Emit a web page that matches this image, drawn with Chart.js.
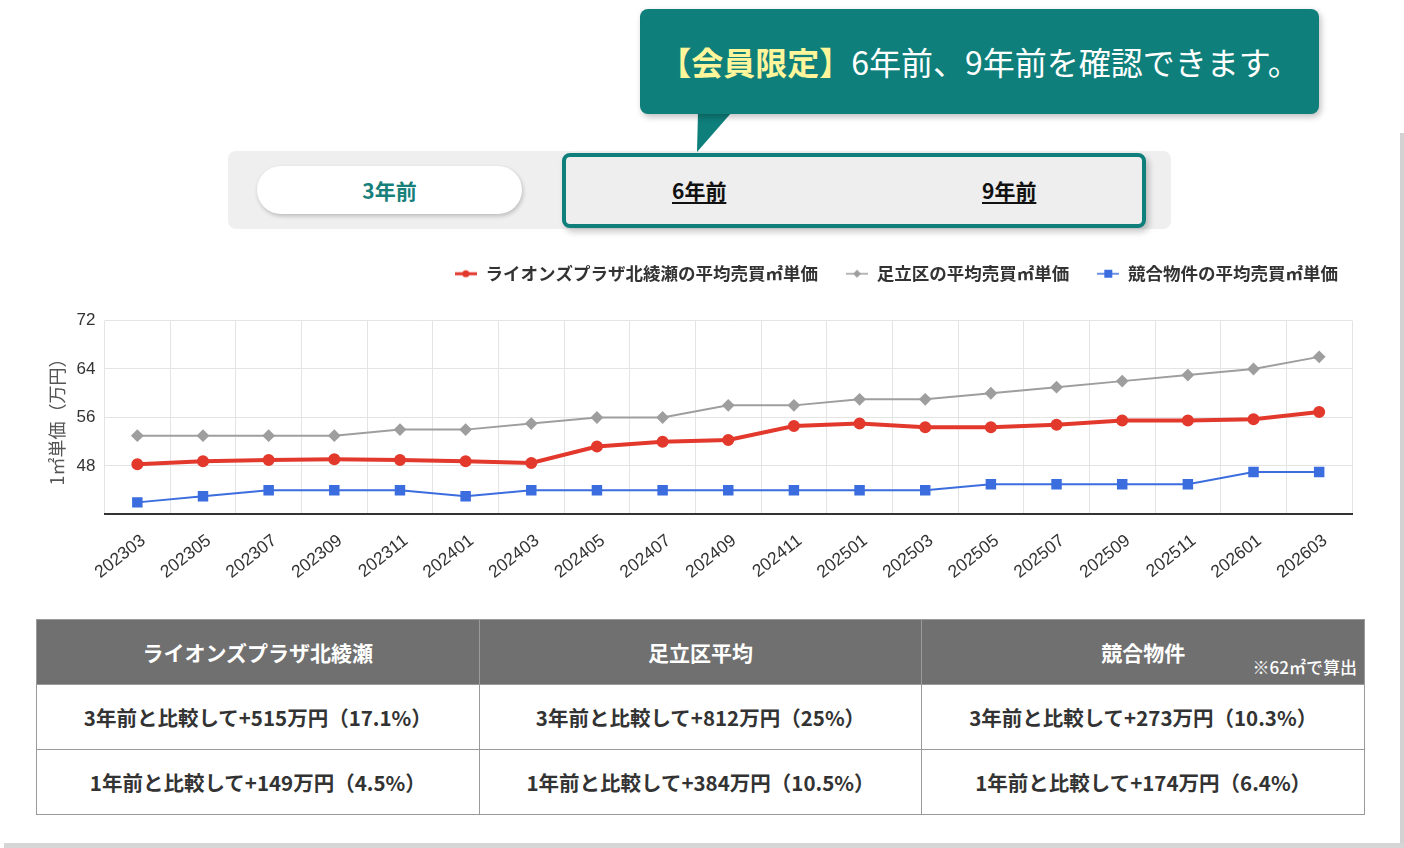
<!DOCTYPE html>
<html lang="ja">
<head>
<meta charset="utf-8">
<script src="https://cdn.jsdelivr.net/npm/chart.js@4"></script>
<style>
  html, body { margin: 0; padding: 0; background: #fff; }
  body { width: 1404px; height: 848px; position: relative; overflow: hidden;
         font-family: "Noto Sans CJK JP", "Noto Sans", sans-serif; }
  .edgeR { position: absolute; left: 1400px; top: 133px; width: 4px; height: 715px; background: #d2d2d2; }
  .edgeB { position: absolute; left: 4px; top: 843px; width: 1400px; height: 5px; background: #d6d6d6; }
  .balloon { position: absolute; left: 640px; top: 9px; width: 679px; height: 105px; background: #0e7f7b;
             border-radius: 8px; box-shadow: 2px 3px 6px rgba(0,0,0,0.25); color: #fff;
             font-size: 32px; line-height: 105px; text-align: center; white-space: nowrap; }
  .balloon b { color: #fff59a; font-weight: 700; }
  .tail { position: absolute; left: 690px; top: 112px; width: 45px; height: 42px; background: #0e7f7b;
          clip-path: polygon(8px 0, 42px 0, 7px 40px); }
  .tabs { position: absolute; left: 228px; top: 151px; width: 943px; height: 78px; background: #efefef; border-radius: 8px; }
  .tab3 { position: absolute; left: 257px; top: 166px; width: 265px; height: 48px; background: #fff; border-radius: 24px;
          box-shadow: 1px 2px 4px rgba(0,0,0,0.22); color: #17807b; font-weight: 700; font-size: 21px;
          line-height: 48px; text-align: center; }
  .lock { position: absolute; left: 562px; top: 153px; width: 576px; height: 67px; border: 4px solid #0e7f7b;
          border-radius: 8px; background: #eeeeee; box-shadow: 3px 4px 6px rgba(0,0,0,0.22); }
  .lock span { position: absolute; top: 0; line-height: 67px; font-weight: 700; font-size: 21px; color: #111;
               text-decoration: underline; text-underline-offset: 3px; }
  .chartBox { position: absolute; left: 42px; top: 237px; width: 1320px; height: 362px; }
  table { position: absolute; left: 36px; top: 619px; width: 1329px; border-collapse: collapse; table-layout: fixed; }
  th, td { border: 1px solid #9a9a9a; text-align: center; font-weight: 700; padding: 0; }
  th { background: #707070; color: #fff; height: 64px; position: relative; font-size: 21px; }
  td { color: #333; height: 64px; font-size: 20.5px; }
  .note { position: absolute; right: 7px; bottom: 5px; font-size: 17px; font-weight: 500; }
</style>
</head>
<body>
<div class="edgeR"></div>
<div class="edgeB"></div>

<div class="tabs"></div>
<div class="tab3">3年前</div>
<div class="lock"><span style="left:106px">6年前</span><span style="left:416px">9年前</span></div>
<div class="tail"></div>
<div class="balloon"><b>【会員限定】</b>6年前、9年前を確認できます。</div>

<div class="chartBox"><canvas id="priceChart"></canvas></div>

<table>
  <tr><th>ライオンズプラザ北綾瀬</th><th>足立区平均</th><th>競合物件<span class="note">※62㎡で算出</span></th></tr>
  <tr><td>3年前と比較して+515万円（17.1%）</td><td>3年前と比較して+812万円（25%）</td><td>3年前と比較して+273万円（10.3%）</td></tr>
  <tr><td>1年前と比較して+149万円（4.5%）</td><td>1年前と比較して+384万円（10.5%）</td><td>1年前と比較して+174万円（6.4%）</td></tr>
</table>

<script>
// 年月ラベル（2ヶ月ごと）
const months = ['202303','202305','202307','202309','202311','202401','202403','202405','202407','202409',
                '202411','202501','202503','202505','202507','202509','202511','202601','202603'];
// 平均売買㎡単価（万円）
const lionsPrice = [48.3, 48.8, 49.0, 49.1, 49.0, 48.8, 48.5, 51.2, 52.0, 52.3,
                    54.6, 55.0, 54.4, 54.4, 54.8, 55.5, 55.5, 55.7, 56.9];
const adachiPrice = [53, 53, 53, 53, 54, 54, 55, 56, 56, 58, 58, 59, 59, 60, 61, 62, 63, 64, 66];
const rivalPrice = [42, 43, 44, 44, 44, 43, 44, 44, 44, 44, 44, 44, 44, 45, 45, 45, 45, 47, 47];
const seriesNames = ['ライオンズプラザ北綾瀬の平均売買㎡単価', '足立区の平均売買㎡単価', '競合物件の平均売買㎡単価'];
const yTicks = [40, 48, 56, 64, 72];

const RED = '#e2392c', GRAY = '#9e9e9e', BLUE = '#3b6ddf';

// 凡例用の小さなマーカー画像（線＋点）
function legendIcon(color, shape, lw) {
  const c = document.createElement('canvas');
  c.width = 22; c.height = 12;
  const g = c.getContext('2d');
  g.strokeStyle = color; g.fillStyle = color; g.lineWidth = lw;
  g.beginPath(); g.moveTo(0, 6); g.lineTo(22, 6); g.stroke();
  if (shape === 'circle') { g.beginPath(); g.arc(11, 6, 3.5, 0, Math.PI * 2); g.fill(); }
  if (shape === 'diamond') { g.beginPath(); g.moveTo(11, 2); g.lineTo(15, 6); g.lineTo(11, 10); g.lineTo(7, 6); g.closePath(); g.fill(); }
  if (shape === 'square') { g.fillRect(7, 2, 8, 8); }
  return c;
}
const icons = [legendIcon(RED, 'circle', 3), legendIcon(GRAY, 'diamond', 1.5), legendIcon(BLUE, 'square', 1.5)];

// 凡例とグラフの間を空けて、凡例を少し右へ
const legendGap = {
  id: 'legendGap',
  beforeInit(chart) {
    const fit = chart.legend.fit;
    chart.legend.fit = function () { fit.call(this); this.height += 28; };
  },
  afterLayout(chart) {
    chart.legend.left += 14;
    chart.legend.right += 14;
  }
};

const ctx = document.getElementById('priceChart').getContext('2d');
new Chart(ctx, {
  type: 'line',
  data: {
    labels: months,
    datasets: [
      { label: seriesNames[0], data: lionsPrice, borderColor: RED, backgroundColor: RED,
        borderWidth: 4, pointStyle: 'circle', pointRadius: 4, tension: 0 },
      { label: seriesNames[1], data: adachiPrice, borderColor: GRAY, backgroundColor: GRAY,
        borderWidth: 2, pointStyle: 'rectRot', pointRadius: 5, tension: 0 },
      { label: seriesNames[2], data: rivalPrice, borderColor: BLUE, backgroundColor: BLUE,
        borderWidth: 2, pointStyle: 'rect', pointRadius: 6, tension: 0 }
    ]
  },
  options: {
    responsive: true,
    maintainAspectRatio: false,
    animation: false,
    layout: { padding: { left: 0, right: 10, top: 0, bottom: 0 } },
    plugins: {
      tooltip: { enabled: false },
      legend: {
        position: 'top',
        align: 'end',
        labels: {
          usePointStyle: true,
          pointStyleWidth: 22,
          padding: 28,
          color: '#333',
          font: { family: '"Noto Sans CJK JP"', size: 17.5, weight: 'bold' },
          generateLabels(chart) {
            const items = Chart.defaults.plugins.legend.labels.generateLabels(chart);
            items.forEach((it, i) => { it.pointStyle = icons[i]; });
            return items;
          }
        }
      }
    },
    scales: {
      x: {
        offset: true,
        grid: { offset: true, color: '#e4e4e4', drawTicks: false },
        border: { color: '#333', width: 2 },
        ticks: { maxRotation: 38, minRotation: 38, padding: 16, labelOffset: 6, color: '#333',
                 font: { family: '"Liberation Sans", Arial', size: 17.5 } }
      },
      y: {
        min: 40, max: 72,
        afterBuildTicks(scale) { scale.ticks = yTicks.map(v => ({ value: v })); },
        grid: { color: '#e4e4e4', drawTicks: false },
        border: { display: false },
        ticks: { padding: 9, color: '#333', font: { family: '"Liberation Sans", Arial', size: 17 },
                 callback: v => (v === 40 ? '' : v) },
        title: { display: true, text: '1㎡単価（万円）', color: '#555', padding: { top: 4, bottom: 0 },
                 font: { family: '"Noto Sans CJK JP"', size: 18 } }
      }
    }
  },
  plugins: [legendGap]
});
</script>
</body>
</html>
